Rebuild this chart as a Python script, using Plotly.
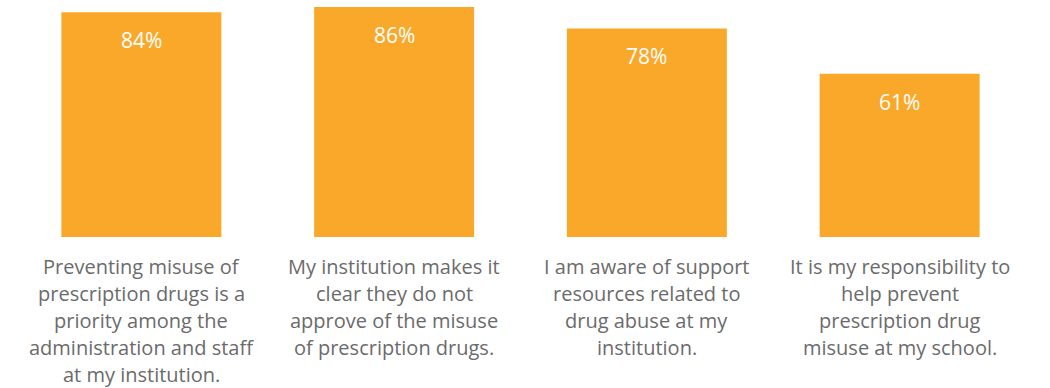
import plotly.graph_objects as go

categories = [
    "Preventing misuse of<br>prescription drugs is a<br>priority among the<br>administration and staff<br>at my institution.",
    "My institution makes it<br>clear they do not<br>approve of the misuse<br>of prescription drugs.",
    "I am aware of support<br>resources related to<br>drug abuse at my<br>institution.",
    "It is my responsibility to<br>help prevent<br>prescription drug<br>misuse at my school.",
]
values = [84, 86, 78, 61]
value_labels = ["84%", "86%", "78%", "61%"]

BAR_COLOR = "#F9A82A"
TEXT_GRAY = "#6B6B6B"
FONT = "Open Sans"
LINE_STEP = 27      # px between category label lines
FIRST_LINE = 29     # px from axis baseline to centre of first line

fig = go.Figure()
fig.add_trace(go.Bar(
    x=list(range(len(values))),
    y=values,
    marker=dict(color=BAR_COLOR, line=dict(width=0)),
    width=0.633,
    hoverinfo="skip",
))

# value labels inside the top of each bar
for i, (v, lab) in enumerate(zip(values, value_labels)):
    fig.add_annotation(
        x=i, y=v, xref="x", yref="y",
        text=lab, showarrow=False,
        yanchor="middle", yshift=-28,
        font=dict(family=FONT, size=21, color="white"),
    )

# category labels below the bars, one annotation per line
for i, cat in enumerate(categories):
    for k, line in enumerate(cat.split("<br>")):
        fig.add_annotation(
            x=i, y=0, xref="x", yref="paper",
            text=line, showarrow=False,
            yanchor="middle", yshift=-(FIRST_LINE + k * LINE_STEP),
            font=dict(family=FONT, size=20, color=TEXT_GRAY),
        )

fig.update_layout(
    width=1050, height=388,
    margin=dict(l=15, r=24, t=7, b=151),
    paper_bgcolor="white", plot_bgcolor="white",
    showlegend=False,
    xaxis=dict(range=[-0.5, 3.5], showticklabels=False, showgrid=False,
               zeroline=False, showline=False, ticks=""),
    yaxis=dict(range=[0, 86], visible=False, showgrid=False, zeroline=False),
)

fig.write_html("out.html")
